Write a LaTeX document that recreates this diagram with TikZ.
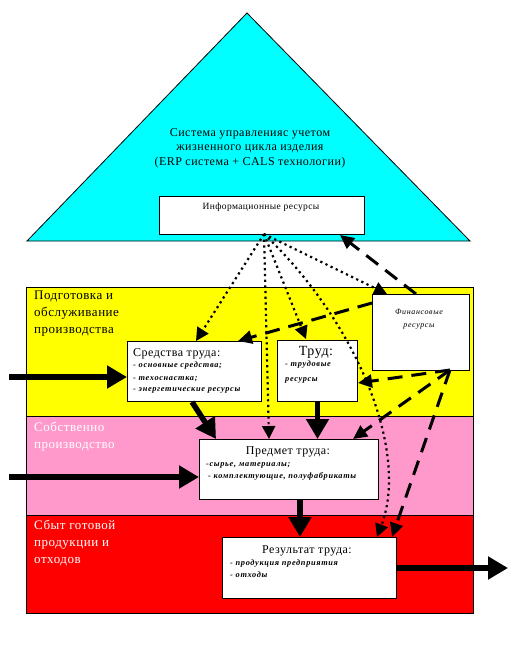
\documentclass[tikz,border=0pt]{standalone}
\usepackage{fontspec}
\setmainfont[LetterSpace=4]{Liberation Serif}
\newfontfamily\itemfont[LetterSpace=8]{Liberation Serif}
\usetikzlibrary{arrows.meta}
\definecolor{pinkband}{RGB}{255,153,204}
\definecolor{cyanfill}{RGB}{0,255,255}
\definecolor{redband}{RGB}{255,0,0}
\definecolor{yellowband}{RGB}{255,255,0}
\tikzset{
  box/.style={draw=black, line width=1pt, fill=white, inner sep=0pt, anchor=north west},
  band/.style={draw=black, line width=1pt},
  bigarrow/.style={line width=5.5pt, -{Triangle[length=20pt,width=22pt]}},
  dotarrow/.style={line width=2.2pt, dash pattern=on 2.2pt off 3.5pt, -{Triangle[length=13pt,width=13pt]}},
  dasharrow/.style={line width=3pt, dash pattern=on 15pt off 9pt, -{Triangle[length=14pt,width=13pt]}},
  ttl/.style={font=\fontsize{12}{14}\selectfont, inner sep=0pt},
  itm/.style={font=\fontsize{8.3}{10}\selectfont\itemfont\bfseries\itshape, inner sep=0pt, anchor=base west},
  bandlbl/.style={font=\fontsize{13}{17}\selectfont, inner sep=0pt, anchor=north west, align=left}
}
\begin{document}
\begin{tikzpicture}[x=1pt,y=-1pt]
\useasboundingbox (0,0) rectangle (528,661);
% triangle
\draw[fill=cyanfill, line width=0.8pt] (247,13) -- (470,241) -- (27,241) -- cycle;
\node[font=\fontsize{12}{14.5}\selectfont, align=center, inner sep=0pt, anchor=north] (systxt) at (250,128)
  {Система управленияс учетом\\жизненного цикла изделия\\(ERP система + CALS технологии)};
% info box
\node[box, minimum width=205pt, minimum height=38pt] (info) at (159,196) {};
\node[font=\fontsize{9.5}{11}\selectfont, inner sep=0pt, anchor=base] (infotxt) at (261,209) {Информационные ресурсы};
% bands
\draw[band, fill=yellowband] (26,287) rectangle (473,416);
\draw[band, fill=pinkband] (26,416) rectangle (473,515);
\draw[band, fill=redband] (26,515) rectangle (473,613);
\node[bandlbl] (b1) at (34,291) {Подготовка и\\обслуживание\\производства};
\node[bandlbl, text=white] (b2) at (34,422) {Собственно\\производство};
\node[bandlbl, text=white] (b3) at (34,520) {Сбыт готовой\\продукции и\\отходов};
% boxes
\node[box, minimum width=134pt, minimum height=60pt] (sr) at (127,341) {};
\node[ttl, anchor=base west] (srt) at (133,356) {Средства труда:};
\node[itm] (sr1) at (133,367) {- основные средства;};
\node[itm] (sr2) at (133,380) {- техоснастка;};
\node[itm] (sr3) at (133,391) {- энергетические ресурсы};

\node[box, minimum width=80pt, minimum height=61pt] (trud) at (277,340) {};
\node[font=\fontsize{14}{15}\selectfont, inner sep=0pt, anchor=base] (trudt) at (316,355) {Труд:};
\node[itm] (trud1) at (285,366) {- трудовые};
\node[itm] (trud2) at (285,381) {ресурсы};

\node[box, minimum width=97pt, minimum height=76pt] (fin) at (372,294) {};
\node[font=\fontsize{8}{13}\selectfont\itemfont\itshape, inner sep=0pt, align=center, anchor=north] (fint) at (419,309) {Финансовые\\ресурсы};

\node[box, minimum width=179pt, minimum height=60pt] (pr) at (199,439) {};
\node[ttl, anchor=base] (prt) at (288,454) {Предмет труда:};
\node[itm] (pr1) at (206,466) {-сырье, материалы;};
\node[itm] (pr2) at (208,478) {- комплектующие, полуфабрикаты};

\node[box, minimum width=174pt, minimum height=61pt] (res) at (222,537) {};
\node[ttl, anchor=base] (rest) at (307,553) {Результат труда:};
\node[itm] (res1) at (230,565) {- продукция предприятия};
\node[itm] (res2) at (230,577) {- отходы};

% free ends
\coordinate (in1) at (9,377);
\coordinate (in2) at (9,477);
\coordinate (out) at (508,568);
\coordinate (ib) at (264,234);
\coordinate (fb) at (450,370);

% thick arrows
\draw[bigarrow] (in1) -- (sr.west |- in1);
\draw[bigarrow] (in2) -- (pr.west |- in2);
\draw[bigarrow] (res.east |- out) -- (out);
\draw[bigarrow] (sr.south -| 192,0) -- (pr.north -| 216,0);
\draw[bigarrow] (trud.south) -- (trud.south |- pr.north);
\draw[bigarrow] (pr.south -| 300,0) -- (res.north -| 300,0);

% dotted arrows from info
\draw[dotarrow] (ib) -- (sr.north -| 196,0);
\draw[dotarrow] (ib) -- (pr.north -| 269,0);
\draw[dotarrow] (ib) -- (306,339);
\draw[dotarrow] (ib) -- (fin.north -| 387,0);
\draw[dotarrow] (ib) .. controls (355,320) and (410,450) .. (res.north -| 377,0);

% dashed arrows from finance
\draw[dasharrow] (fin.north -| 416,0) -- (info.south -| 340,0);
\draw[dasharrow] (fin.west |- 0,303) -- (sr.north -| 238,0);
\draw[dasharrow] (fb) -- (trud.east |- 0,383);
\draw[dasharrow] (fb) -- (pr.north -| 353,0);
\draw[dasharrow] (fb) -- (res.north -| 392,0);
\end{tikzpicture}
\end{document}
